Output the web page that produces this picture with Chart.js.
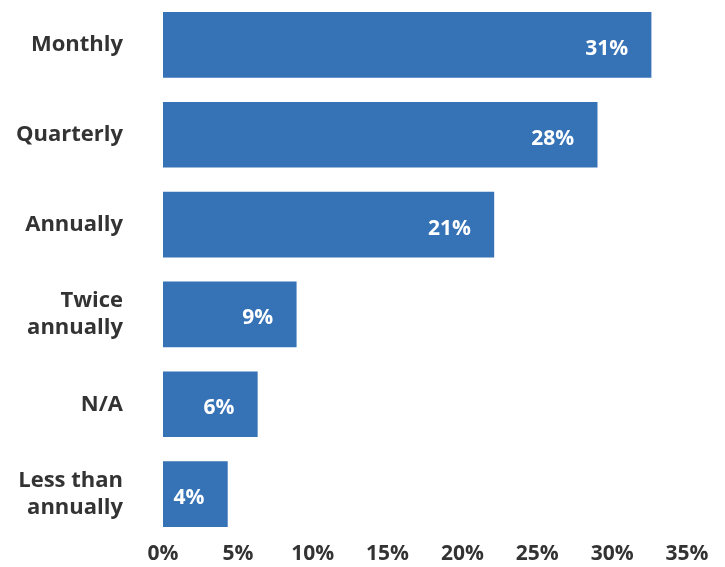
<!DOCTYPE html>
<html>
<head>
<meta charset="utf-8">
<script src="https://cdn.jsdelivr.net/npm/chart.js@4"></script>
<style>
  html, body { margin: 0; padding: 0; background: #fff; }
  #wrap { width: 725px; height: 567px; }
</style>
</head>
<body>
<div id="wrap"><canvas id="freqChart"></canvas></div>
<script>
// categories and values
const categories = ['Monthly', 'Quarterly', 'Annually', ['Twice', 'annually'], 'N/A', ['Less than', 'annually']];
// bar lengths as drawn against the axis
const barValues = [32.6, 29.0, 22.1, 8.9, 6.3, 4.3];
// printed value labels
const valueLabels = ['31%', '28%', '21%', '9%', '6%', '4%'];
const xTicks = [0, 5, 10, 15, 20, 25, 30, 35];

const barColor = '#3572b6';
const textColor = '#333333';
const fontFamily = '"Open Sans", Lato, sans-serif';

// white labels inside the bar ends
const valueLabelPlugin = {
  id: 'valueLabels',
  afterDatasetsDraw(chart) {
    const ctx = chart.ctx;
    const meta = chart.getDatasetMeta(0);
    ctx.save();
    ctx.fillStyle = '#ffffff';
    ctx.font = 'bold 21px ' + fontFamily;
    ctx.textAlign = 'right';
    ctx.textBaseline = 'middle';
    meta.data.forEach((bar, i) => {
      ctx.fillText(valueLabels[i], bar.x - 23, bar.y + 4);
    });
    ctx.restore();
  }
};

new Chart(document.getElementById('freqChart'), {
  type: 'bar',
  data: {
    labels: categories,
    datasets: [{
      data: barValues,
      backgroundColor: barColor,
      borderWidth: 0,
      barThickness: 65
    }]
  },
  options: {
    indexAxis: 'y',
    responsive: true,
    maintainAspectRatio: false,
    animation: false,
    layout: { padding: { top: 0, right: 38, bottom: 0, left: 0 } },
    plugins: {
      legend: { display: false },
      tooltip: { enabled: false }
    },
    scales: {
      y: {
        grid: { display: false, drawTicks: false },
        border: { display: false },
        afterFit(scale) {
          // keep the label gap from eating vertical room
          scale.width = 163;
          scale.paddingTop = 0;
          scale.paddingBottom = 0;
        },
        ticks: {
          color: textColor,
          padding: 40,
          font: { family: fontFamily, size: 22, weight: 'bold', lineHeight: 1.2 }
        }
      },
      x: {
        min: 0,
        max: 35,
        grid: { display: false, drawTicks: false },
        border: { display: false },
        afterBuildTicks(scale) { scale.ticks = xTicks.map(v => ({ value: v })); },
        afterFit(scale) { scale.height = 28; },
        ticks: {
          color: textColor,
          padding: 2,
          font: { family: fontFamily, size: 21, weight: 'bold' },
          callback: v => v + '%'
        }
      }
    }
  },
  plugins: [valueLabelPlugin]
});
</script>
</body>
</html>
